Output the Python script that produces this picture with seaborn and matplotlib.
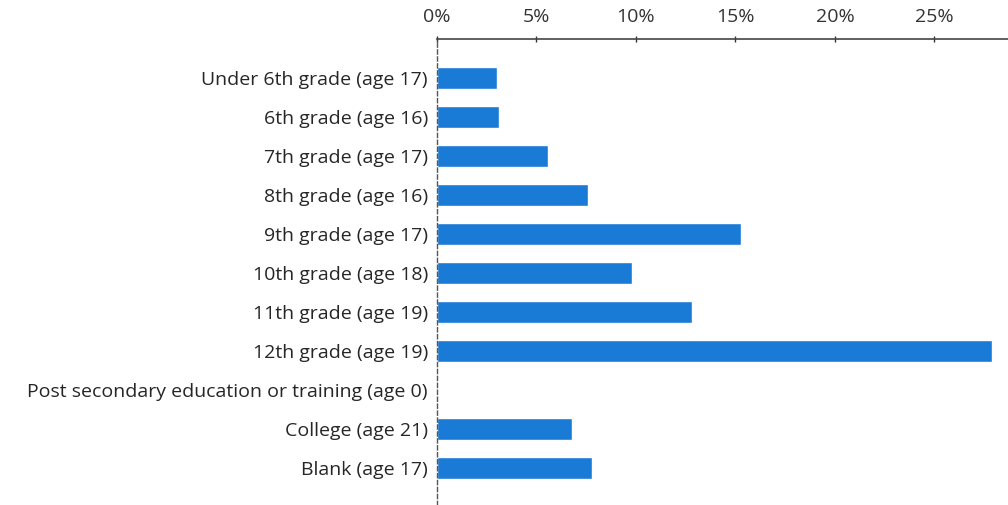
import pandas as pd
import matplotlib
matplotlib.use("Agg")
import matplotlib.pyplot as plt
import seaborn as sns
from matplotlib.ticker import PercentFormatter

''' DATA '''
categories = ["Under 6th grade (age 17)", "6th grade (age 16)", "7th grade (age 17)",
              "8th grade (age 16)", "9th grade (age 17)", "10th grade (age 18)",
              "11th grade (age 19)", "12th grade (age 19)",
              "Post secondary education or training (age 0)",
              "College (age 21)", "Blank (age 17)"]
share = [3.0, 3.1, 5.6, 7.6, 15.3, 9.8, 12.8, 27.9, 0.0, 6.8, 7.8]
xticks = [0, 5, 10, 15, 20, 25]

df = pd.DataFrame({"category": categories, "share": share})

''' PLOT '''
sns.set_style("white")
plt.rcParams['font.family'] = ['Open Sans', 'DejaVu Sans']

fig = plt.figure(figsize=(10.08, 5.05), dpi=100)
ax = fig.add_axes([0.4335, 0.0, 0.5665, 0.923])

sns.barplot(data=df, x="share", y="category", color="#1a7bd6", saturation=1,
            width=0.56, ax=ax)

ax.set_xlim(0, 28.7)
ax.set_ylim(10.95, -1.0)
ax.set_xticks(xticks)
ax.xaxis.set_major_formatter(PercentFormatter(decimals=0))
ax.xaxis.tick_top()
ax.set_xlabel("")
ax.set_ylabel("")

ax.tick_params(axis="x", which="major", direction="inout", length=4, width=1,
               color="#333333", pad=7, labelsize=14, labelcolor="#333333", top=True)
ax.tick_params(axis="y", length=0, pad=6.5, labelsize=14, labelcolor="#262626")

# axis look: solid top line, dashed left line
for side in ["right", "bottom"]:
    ax.spines[side].set_visible(False)
ax.spines["top"].set_color("#444444")
ax.spines["top"].set_linewidth(1.2)
ax.spines["left"].set_color("#555555")
ax.spines["left"].set_linewidth(1.0)
ax.spines["left"].set_linestyle((0, (3, 2)))

fig.savefig("out.png", dpi=100)
